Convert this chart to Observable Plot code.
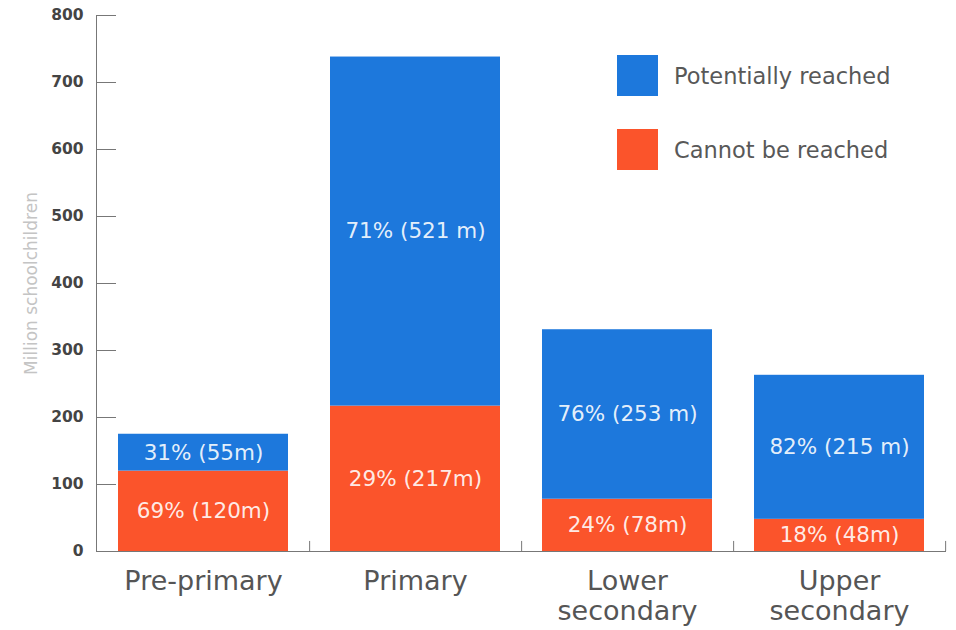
<!DOCTYPE html>
<html>
<head>
<meta charset="utf-8">
<script src="https://cdn.jsdelivr.net/npm/d3@7"></script>
<script src="https://cdn.jsdelivr.net/npm/@observablehq/plot@0.6"></script>
<style>
  html, body { margin: 0; padding: 0; background: #fff; }
  #wrap { position: relative; width: 956px; height: 630px; font-family: "DejaVu Sans", sans-serif; }
  #legend { position: absolute; left: 617px; top: 55px; }
  .item { display: flex; align-items: center; height: 41px; margin-bottom: 33px; }
  .sw { width: 41px; height: 41px; margin-right: 16px; }
  .lab { font-size: 22.5px; color: #585858; }
</style>
</head>
<body>
<div id="wrap"><div id="chart"></div><div id="legend"></div></div>
<script>
const categories = ["Pre-primary", "Primary", "Lower secondary", "Upper secondary"];
const cannotReached = [120, 217, 78, 48];
const potentiallyReached = [55, 521, 253, 215];
const cannotLabels = ["69% (120m)", "29% (217m)", "24% (78m)", "18% (48m)"];
const potentialLabels = ["31% (55m)", "71% (521 m)", "76% (253 m)", "82% (215 m)"];
const yTicks = [0, 100, 200, 300, 400, 500, 600, 700, 800];
const seriesNames = ["Cannot be reached", "Potentially reached"];
const colors = ["#FB542B", "#1D78DC"];

const rows = [];
categories.forEach((c, i) => {
  rows.push({cat: c, series: seriesNames[0], value: cannotReached[i], label: cannotLabels[i]});
  rows.push({cat: c, series: seriesNames[1], value: potentiallyReached[i], label: potentialLabels[i]});
});

const W = 956, H = 630, mL = 96, mR = 11, mT = 15, mB = 79;
const step = (W - mL - mR) / categories.length;

const chart = Plot.plot({
  width: W, height: H,
  marginLeft: mL, marginRight: mR, marginTop: mT, marginBottom: mB,
  style: {fontFamily: "'DejaVu Sans', sans-serif", background: "#fff"},
  x: {domain: categories, paddingInner: 0.2, paddingOuter: 0.1, label: null},
  y: {domain: [0, 800], label: null},
  color: {domain: seriesNames, range: colors},
  marks: [
    Plot.barY(rows, Plot.stackY({x: "cat", y: "value", fill: "series", order: seriesNames})),
    Plot.text(rows, Plot.stackY({x: "cat", y: "value", z: "series", order: seriesNames, text: "label",
      fill: "#fff", fillOpacity: 0.9, fontSize: 21.5})),
    Plot.frame({anchor: "left", stroke: "#777"}),
    Plot.frame({anchor: "bottom", stroke: "#777"}),
    Plot.ruleX(categories, {x: d => d, y1: 0, y2: 15, dx: step / 2, stroke: "#777"}),
    Plot.axisY({ticks: yTicks, tickSize: -20, tickPadding: 33, stroke: "#777",
      fontSize: 15.5, fontWeight: "bold", fill: "#444",
      label: "Million schoolchildren", labelAnchor: "center", labelArrow: "none", labelOffset: 72}),
    Plot.axisX({tickSize: 0, tickPadding: 17, fontSize: 27, fill: "#555", lineHeight: 1.12,
      tickFormat: d => d.replace(" ", "\n"), textAnchor: "middle", label: null})
  ]
});
document.getElementById("chart").appendChild(chart);

chart.querySelectorAll("g[aria-label='y-axis label'] text").forEach(t => {
  t.setAttribute("font-size", "17"); t.setAttribute("fill", "#c4c4c4"); t.setAttribute("font-weight", "normal");
});

const legend = document.getElementById("legend");
[1, 0].forEach(i => {
  const d = document.createElement("div"); d.className = "item";
  d.innerHTML = `<div class="sw" style="background:${colors[i]}"></div><div class="lab">${seriesNames[i]}</div>`;
  legend.appendChild(d);
});
</script>
</body>
</html>
